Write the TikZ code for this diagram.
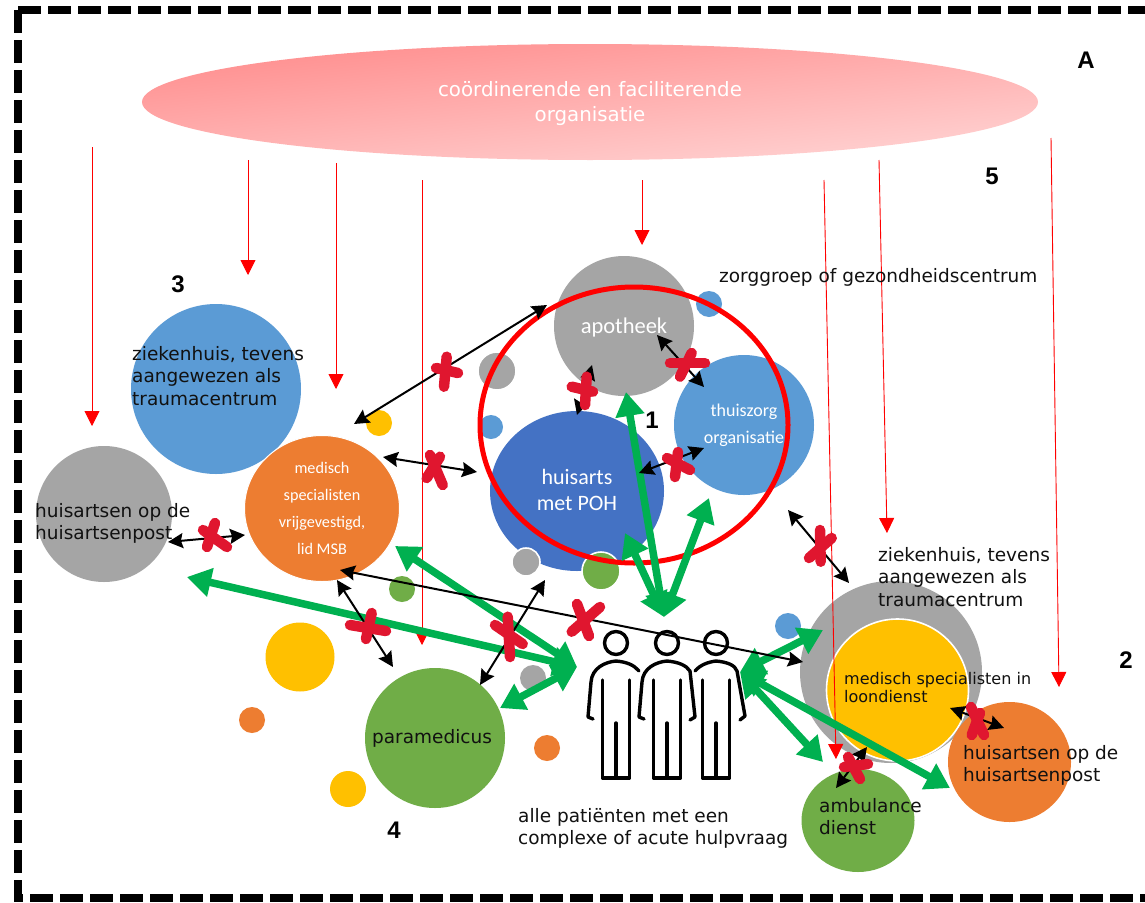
\documentclass[tikz,border=0pt]{standalone}
\usepackage{fontspec}
\usetikzlibrary{arrows.meta,shapes.geometric}
\newfontfamily\djv{DejaVu Sans}
\newfontfamily\carl{Carlito}
\newfontfamily\libs{Liberation Sans}
\definecolor{cgrey}{HTML}{A5A5A5}
\definecolor{cblue}{HTML}{5B9BD5}
\definecolor{cdeep}{HTML}{4472C4}
\definecolor{corange}{HTML}{ED7D31}
\definecolor{cyellow}{HTML}{FFC000}
\definecolor{cgreen}{HTML}{70AD47}
\definecolor{cgarrow}{HTML}{00B050}
\definecolor{cx}{HTML}{E0162F}
\definecolor{ctext}{HTML}{111111}
\tikzset{
  disc/.style={circle,inner sep=0pt,draw=none},
  oval/.style={ellipse,inner sep=0pt,draw=none},
  wdisc/.style={circle,inner sep=0pt,draw=white,line width=1.6pt},
  thinred/.style={draw=red,line width=0.9pt,-{Triangle[length=15pt,width=15pt]}},
  thickgreen/.style={draw=cgarrow,line width=7.5pt,{Triangle[length=24pt,width=28pt]}-{Triangle[length=24pt,width=28pt]}},
  blackarrow/.style={draw=black,line width=2pt,{Stealth[length=15pt,width=15pt,inset=2pt]}-{Stealth[length=15pt,width=15pt,inset=2pt]}},
  crossstroke/.style={draw=cx,line width=10.5pt,line cap=round},
  body/.style={font=\djv\fontsize{18.5}{22.5}\selectfont,align=left,anchor=north west,inner sep=0pt,text=ctext},
  wtext/.style={font=\carl,text=white,align=center,inner sep=0pt},
  numlabel/.style={font=\libs\bfseries\fontsize{24}{24}\selectfont,inner sep=0pt},
  person/.style={draw=black,line width=3.4pt,line join=round,line cap=round},
}
\newcommand{\redcross}[4]{%
  \draw[crossstroke] (#1) -- (#2);
  \draw[crossstroke] (#3) -- (#4);}
\newcommand{\legs}[1]{%
  \draw[person] (#1,643) circle (11.5);
  \draw[person] (#1-13.5,680) -- (#1-13.5,778) -- (#1+13.5,778) -- (#1+13.5,680);
  \draw[person] (#1,723) -- (#1,778);}
\begin{document}
\begin{tikzpicture}[x=1pt,y=-1pt]
\useasboundingbox (0,0) rectangle (1145,902);
\fill[white] (0,0) rectangle (1145,902);
\clip (0,0) rectangle (1145,902);
% frame
\coordinate (fa) at (18,10); \coordinate (fb) at (1150,10);
\coordinate (fc) at (18,898); \coordinate (fd) at (1150,898);
\draw[line width=8pt,dash pattern=on 23pt off 7pt] (fa) -- (fb);
\draw[line width=8pt,dash pattern=on 23pt off 7pt] (fa) -- (fc) -- (fd);
% top ellipse
\node[ellipse,inner sep=0pt,minimum width=896pt,minimum height=116pt,
  top color=red!45!white,bottom color=red!17!white,shading angle=6] (org) at (590,102) {};
\node[text=white,align=center,inner sep=0pt,font=\djv\fontsize{19.8}{25}\selectfont] (orgt) at (590,103.5)
  {coördinerende en faciliterende\\organisatie};
% circles
\node[disc,fill=cgrey,minimum size=136pt] (gpgrey) at (104,514) {};
\node[disc,fill=cblue,minimum size=170pt] (hospL) at (216,389) {};
\node[ellipse,inner sep=0pt,draw=white,line width=1pt,fill=corange,minimum width=155pt,minimum height=146pt] (msb) at (322,508.5) {};
\node[disc,fill=cyellow,minimum size=26pt] (y1) at (379,423) {};
\node[wdisc,fill=cgrey,minimum size=38pt] (g1) at (497,371) {};
\node[disc,fill=cblue,minimum size=24pt] (b1) at (491,427) {};
\node[disc,fill=cgrey,minimum size=140pt] (apo) at (624,326) {};
\node[disc,fill=cblue,minimum size=26pt] (b2) at (709,304) {};
\node[disc,fill=cblue,minimum size=140pt] (thuis) at (744,425) {};
\node[oval,fill=cdeep,minimum width=174pt,minimum height=160pt] (ha) at (577,491) {};
\node[wdisc,fill=cgrey,minimum size=28pt] (g2) at (526,562) {};
\node[wdisc,fill=cgreen,minimum size=38pt] (gr1) at (601,571) {};
\node[disc,fill=cgreen,minimum size=26pt] (gr2) at (402,589) {};
\node[disc,fill=cyellow,minimum size=69pt] (y2) at (300,657) {};
\node[disc,fill=corange,minimum size=26pt] (o1) at (252,720) {};
\node[disc,fill=cyellow,minimum size=36pt] (y3) at (348,789) {};
\node[disc,fill=cgreen,minimum size=140pt] (para) at (435,738) {};
\node[disc,fill=cgrey,minimum size=26pt] (g3) at (533,678) {};
\node[disc,fill=corange,minimum size=26pt] (o2) at (547,748) {};
\node[disc,fill=cblue,minimum size=26pt] (b3) at (788,626) {};
\node[disc,fill=cgrey,minimum size=182pt] (hospR) at (891,672) {};
\node[wdisc,fill=cyellow,minimum size=142pt] (ld) at (897.5,690) {};
\node[oval,fill=corange,minimum width=123pt,minimum height=120pt] (gpR) at (1009.5,762) {};
\node[oval,fill=cgreen,minimum width=113pt,minimum height=103pt] (amb) at (858,820.5) {};
% red ring
\node[ellipse,draw=red,line width=5pt,inner sep=0pt,minimum width=308pt,minimum height=276pt] (ring) at (634,425) {};
% people
\legs{616}\legs{667}\legs{716}
\draw[person] (593,719) -- (588,717) -- (591,682) .. controls (592,668) and (605,662) .. (616,661) .. controls (627,662) and (634,665) .. (639,671);
\draw[person] (644,719) -- (639,717) -- (642,682) .. controls (643,668) and (656,662) .. (667,661) .. controls (678,662) and (686,665) .. (690,671) -- (695,717) -- (690,720);
\draw[person] (695,671) .. controls (700,665) and (708,662) .. (716,661) .. controls (727,662) and (735,665) .. (737,671) -- (745,716) -- (740,720);
% thin red arrows
\coordinate (r1) at (92,147); \coordinate (r1e) at (92,426);
\coordinate (r2) at (248,160); \coordinate (r2e) at (248,275);
\coordinate (r3) at (336,163); \coordinate (r3e) at (336,389);
\coordinate (r4) at (422,180); \coordinate (r4e) at (422,645);
\coordinate (r5) at (642,180); \coordinate (r5e) at (642,245);
\coordinate (r6) at (824,180); \coordinate (r6e) at (836,759);
\coordinate (r7) at (879,160); \coordinate (r7e) at (887,533);
\coordinate (r8) at (1051,138); \coordinate (r8e) at (1059,687);
\foreach \n in {1,...,8} \draw[thinred] (r\n) -- (r\n e);
% green arrows
\coordinate (gL) at (577,667); \coordinate (gT) at (664,617); \coordinate (gR) at (740,672);
\coordinate (ga1) at (187,577); \coordinate (ga2) at (395,546); \coordinate (ga3) at (500,708);
\coordinate (ga4) at (625,533); \coordinate (ga5) at (626,392); \coordinate (ga6) at (709,498);
\coordinate (ga7) at (823,630); \coordinate (ga8) at (823,762); \coordinate (ga9) at (950,788);
\foreach \n in {1,2,3} \draw[thickgreen] (ga\n) -- (gL);
\foreach \n in {4,5,6} \draw[thickgreen] (ga\n) -- (gT);
\foreach \n in {7,8,9} \draw[thickgreen] (ga\n) -- (gR);
% black arrows
\coordinate (k1a) at (354,424); \coordinate (k1b) at (547,305);
\coordinate (k2a) at (383,457); \coordinate (k2b) at (477,472);
\coordinate (k3a) at (168,542); \coordinate (k3b) at (245,535);
\coordinate (k4a) at (337,580); \coordinate (k4b) at (393,667);
\coordinate (k5a) at (340,570); \coordinate (k5b) at (803,662);
\coordinate (k6a) at (545,580); \coordinate (k6b) at (480,685);
\coordinate (k7a) at (788,510); \coordinate (k7b) at (849,583);
\coordinate (k8a) at (577,415); \coordinate (k8b) at (592,365);
\coordinate (k9a) at (657,335); \coordinate (k9b) at (704,387);
\coordinate (k10a) at (639,473); \coordinate (k10b) at (704,448);
\coordinate (k11a) at (950,708); \coordinate (k11b) at (1004,728);
\coordinate (k12a) at (836,788); \coordinate (k12b) at (867,747);
\foreach \n in {1,...,12} \draw[blackarrow] (k\n a) -- (k\n b);
% crosses
\redcross{446.7,356.7}{444,386.7}{436,368}{458,373}
\redcross{430,455}{442.7,485}{440,456.7}{426.7,478}
\redcross{215,523}{207,547}{203,530}{227,547}
\redcross{371.7,613}{366,639}{350,625}{386,631}
\redcross{507.7,616.7}{510,657}{495,625}{522.7,644}
\redcross{577,604}{589,636}{600,607}{571.7,631.7}
\redcross{820,530}{820.7,561.7}{831.7,538}{809,558}
\redcross{971,707}{984,735}{980,713}{971.7,735}
\redcross{848,757}{860,779}{844,767}{868,764}
\redcross{678,452}{675,477}{667,458}{690,470}
\redcross{586.7,376.7}{585,405}{571.7,386.7}{593,391.7}
\redcross{670,363}{705,363}{691.7,353}{680,376.7}
% texts
\node[body] (t1) at (132,346) {ziekenhuis, tevens\\aangewezen als\\traumacentrum};
\node[body] (t2) at (35,503) {huisartsen op de\\huisartsenpost};
\node[wtext,font=\carl\fontsize{16.2}{27}\selectfont] (t3) at (322,508) {medisch\\specialisten\\vrijgevestigd,\\lid MSB};
\node[wtext,font=\carl\fontsize{22.5}{26}\selectfont] (t4) at (624,327) {apotheek};
\node[wtext,font=\carl\fontsize{18}{27}\selectfont] (t5) at (744,425) {thuiszorg\\organisatie};
\node[wtext,font=\carl\fontsize{22}{26}\selectfont] (t6) at (577,490) {huisarts\\met POH};
\node[body,anchor=center] (t7) at (432,738) {paramedicus};
\node[body,font=\djv\fontsize{16}{18}\selectfont] (t8) at (844,672) {medisch specialisten in\\loondienst};
\node[body] (t9) at (963,745) {huisartsen op de\\huisartsenpost};
\node[body] (t10) at (819,798) {ambulance\\dienst};
\node[body] (t11) at (518,808) {alle patiënten met een\\complexe of acute hulpvraag};
\node[body] (t12) at (878,547) {ziekenhuis, tevens\\aangewezen als\\traumacentrum};
\node[body] (t13) at (719,268) {zorggroep of gezondheidscentrum};
\node[numlabel] (nA) at (1086,60) {A};
\node[numlabel] (n5) at (992,176) {5};
\node[numlabel] (n3) at (178,284) {3};
\node[numlabel] (n1) at (652,420) {1};
\node[numlabel] (n4) at (394,830) {4};
\node[numlabel] (n2) at (1126,660) {2};
\end{tikzpicture}
\end{document}
